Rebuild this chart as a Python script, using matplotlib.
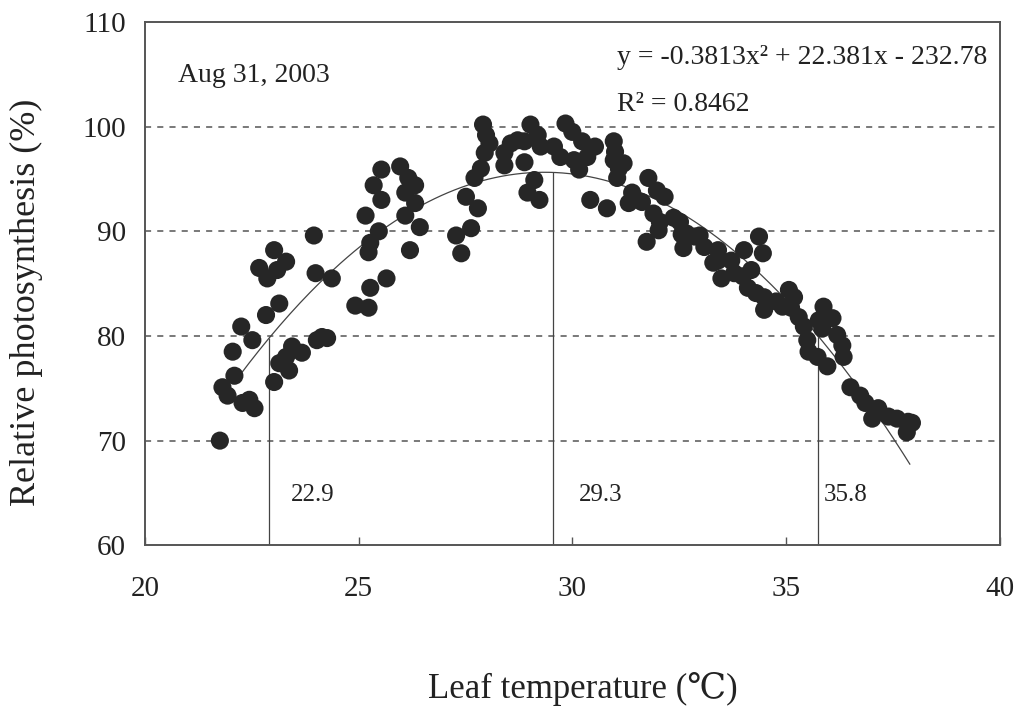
import matplotlib
matplotlib.use("Agg")
import matplotlib.pyplot as plt
import numpy as np

plt.rcParams['font.family'] = ['Liberation Serif', 'DejaVu Serif']

# leaf temperature (C) and relative photosynthesis (%)
leaf_temp = [
    21.75, 21.81, 21.93, 22.05, 22.09, 22.25, 22.28, 22.44, 22.56, 22.51,
    22.67, 22.83, 22.86, 23.02, 23.09, 23.02, 23.14, 23.30, 23.14, 23.30,
    23.37, 23.44, 23.67, 23.95, 23.99, 24.37, 24.02, 24.14, 24.26, 24.92,
    25.23, 25.27, 25.65, 25.23, 25.27, 25.47, 25.16,
    25.53, 25.35, 25.53, 25.97, 26.16, 26.32, 26.09, 26.32, 26.09, 26.43,
    26.20, 27.28, 27.40, 27.63, 27.51, 27.79, 27.71, 27.86, 27.95, 28.06,
    27.98, 27.91, 28.56, 28.72, 28.41, 28.41, 28.88, 29.02, 29.11, 28.95,
    29.19, 28.88, 29.26, 29.57, 29.72, 29.84, 30.00, 30.23, 30.53, 30.04,
    30.16, 30.35, 29.23, 30.97, 31.00, 30.97, 31.09, 31.05, 31.20, 30.42,
    30.81, 31.40, 31.32, 31.63, 31.78, 31.98, 32.16, 31.90, 32.05, 32.02,
    32.37, 31.74, 32.56, 32.67, 32.60, 32.98, 33.09, 33.30,
    32.52, 32.86, 33.41, 33.41, 33.49, 33.72, 33.79, 34.02, 34.37, 34.46,
    34.19, 33.99, 34.11, 34.30, 34.49, 34.49, 34.77, 35.07, 35.19, 34.92,
    35.12, 35.30, 35.42, 35.50, 35.53, 35.88, 35.77,
    35.74, 35.97, 36.09, 35.85, 36.20, 36.32, 36.35, 36.51, 36.74, 36.86,
    37.16, 37.02, 37.40, 37.60, 37.86, 37.95, 37.83,
]
rel_photo = [
    70.0, 75.1, 74.3, 78.5, 76.2, 80.9, 73.6, 73.9, 73.1, 79.6,
    86.5, 82.0, 85.5, 88.2, 86.3, 75.6, 83.1, 87.1, 77.4, 78.0,
    76.7, 79.0, 78.4, 89.6, 86.0, 85.5, 79.6, 79.9, 79.8, 82.9,
    82.7, 84.6, 85.5, 88.0, 88.9, 90.0, 91.5,
    95.9, 94.4, 93.0, 96.2, 95.1, 94.4, 93.7, 92.7, 91.5, 90.4,
    88.2, 89.6, 87.9, 90.3, 93.3, 92.2, 95.1, 96.0, 97.5, 98.4,
    99.2, 100.2, 98.4, 98.7, 97.5, 96.3, 96.6, 100.2, 94.9, 93.7,
    99.2, 98.6, 98.1, 98.1, 97.1, 100.3, 99.5, 98.6, 98.1, 96.8,
    95.9, 97.1, 93.0, 98.6, 97.6, 96.8, 96.0, 95.1, 96.5, 93.0,
    92.2, 93.7, 92.7, 92.8, 95.1, 93.9, 93.3, 91.7, 90.9, 90.1,
    91.3, 89.0, 89.7, 89.8, 88.4, 89.6, 88.5, 87.0,
    90.9, 89.5, 88.2, 87.2, 85.5, 87.2, 86.0, 88.2, 89.5, 87.9,
    86.3, 85.7, 84.6, 84.1, 83.7, 82.5, 83.3, 84.4, 83.7, 82.8,
    82.7, 81.8, 80.9, 79.6, 78.5, 82.8, 81.5,
    78.0, 77.1, 81.7, 80.7, 80.1, 79.1, 78.0, 75.1, 74.3, 73.6,
    73.1, 72.1, 72.3, 72.1, 71.8, 71.7, 70.8,
]

# fitted quadratic from the figure
coef = [-0.3813, 22.381, -232.78]
fit_range = (22.2, 37.9)

# marked temperatures (line positions as drawn) and their labels
mark_x = [22.9, 29.55, 35.75]
mark_labels = ["22.9", "29.3", "35.8"]
mark_label_x = [23.42, 30.16, 35.88]

fig = plt.figure(figsize=(10.22, 7.10), dpi=100)
ax = fig.add_axes([0.142, 0.232, 0.836, 0.737])

ax.set_xlim(20, 40)
ax.set_ylim(60, 110)
ax.set_xticks([20, 25, 30, 35, 40])
ax.set_yticks([60, 70, 80, 90, 100, 110])

for y in [70, 80, 90, 100]:
    ax.axhline(y, color='#555555', lw=1.1, ls=(0, (4, 4)), zorder=1)

poly = np.poly1d(coef)
xs = np.linspace(fit_range[0], fit_range[1], 200)
ax.plot(xs, poly(xs), color='#444444', lw=0.9, zorder=2)

ax.vlines(mark_x, 60, poly(np.array(mark_x)), color='#444444', lw=0.9, zorder=2)

ax.scatter(leaf_temp, rel_photo, s=170, color='#262626', edgecolors='none', zorder=3)

for lx, lab in zip(mark_label_x, mark_labels):
    ax.text(lx, 64.8, lab, fontsize=18, va='center', ha='left', color='#222222')

ax.text(20.77, 104.9, "Aug 31, 2003", fontsize=20, va='center', ha='left', color='#222222')
ax.text(31.05, 106.6, "y = -0.3813x² + 22.381x - 232.78", fontsize=20,
        va='center', ha='left', color='#222222')
ax.text(31.05, 102.1, "R² = 0.8462", fontsize=20, va='center', ha='left', color='#222222')

for sp in ax.spines.values():
    sp.set_color('#555555')
    sp.set_linewidth(1.4)

ax.tick_params(axis='x', direction='in', length=6, width=1, color='#555555',
               labelsize=21, pad=22, labelcolor='#222222')
ax.tick_params(axis='y', length=0, labelsize=21, pad=14, labelcolor='#222222')

ax.set_xlabel("Leaf temperature (℃)", fontsize=25, color='#222222')
ax.set_ylabel("Relative photosynthesis (%)", fontsize=26, color='#222222')
ax.xaxis.set_label_coords(0.512, -0.243)
ax.yaxis.set_label_coords(-0.12, 0.465)

fig.savefig("out.png", dpi=100, facecolor='white')
